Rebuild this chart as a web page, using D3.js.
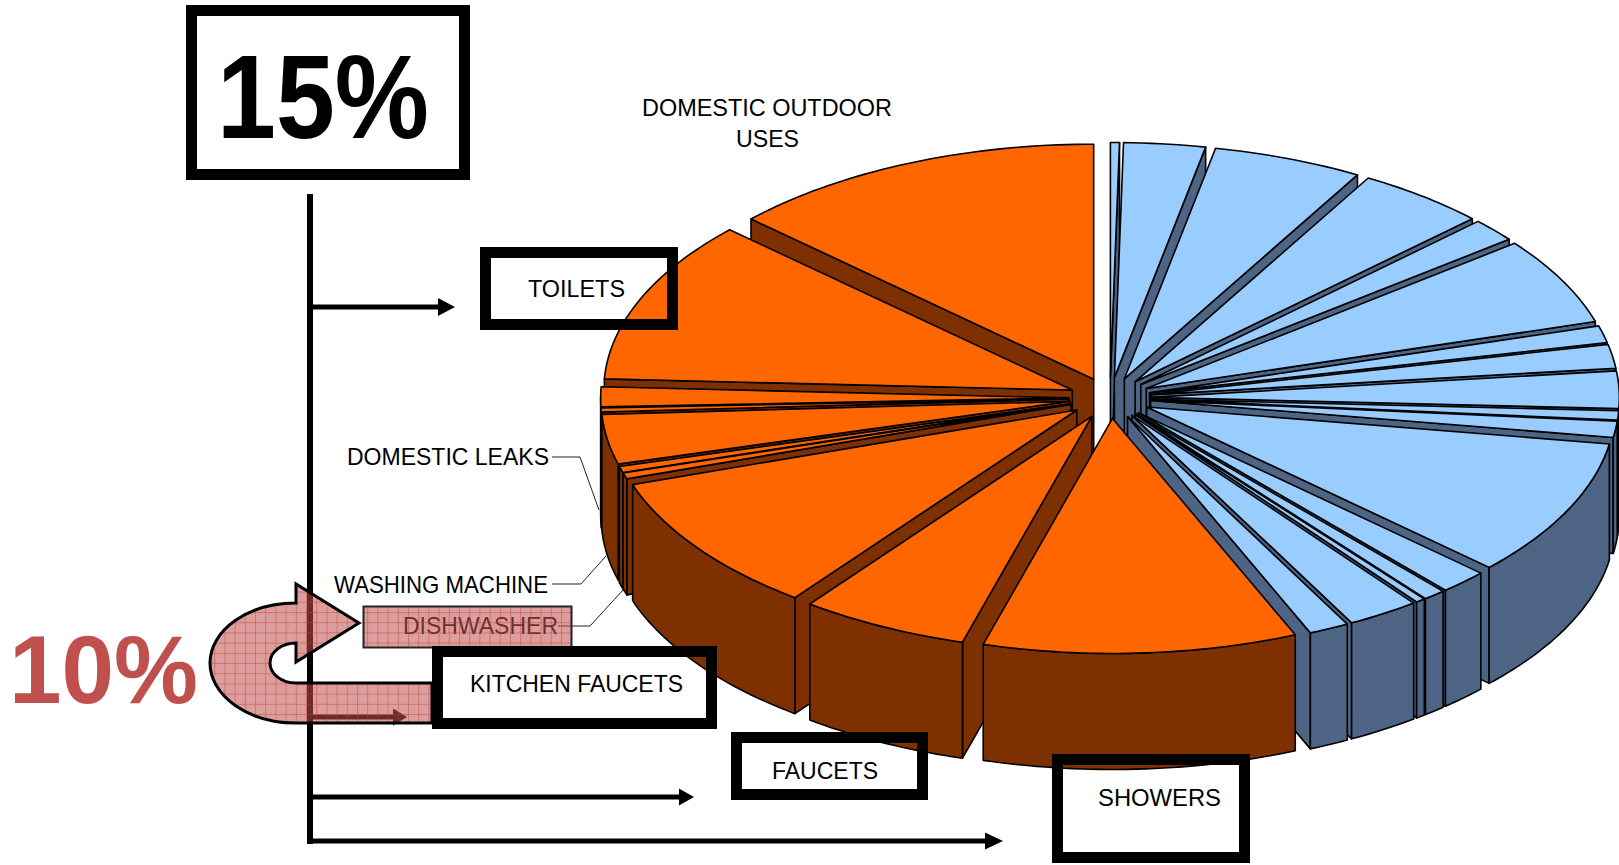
<!DOCTYPE html>
<html>
<head>
<meta charset="utf-8">
<script src="https://cdn.jsdelivr.net/npm/d3@7/dist/d3.min.js"></script>
<style>
html,body{margin:0;padding:0;background:#fff;overflow:hidden}
svg{display:block}
text{font-family:"Liberation Sans",Arial,sans-serif}
</style>
</head>
<body>
<svg id="chart" width="1619" height="865"></svg>
<script>
// ---------- data (share of the pie, %) ----------
const outdoorShares = [0.31,2.81,5.17,4.5,1.61,6.0,1.17,1.64,2.56,0.64,1.11,9.44,1.67,0.78,0.33,2.5,1.39];
const indoorShares  = [10.83,5.83,9.58,0.42,0.42,3.42,0.28,1.36,11.19,13.06];
const titleText = ["DOMESTIC OUTDOOR","USES"];
const boxLabels = ["TOILETS","KITCHEN FAUCETS","FAUCETS","SHOWERS"];
const leaderLabels = ["DOMESTIC LEAKS","WASHING MACHINE","DISHWASHER"];
const bigPercents = ["15%","10%"];

// ---------- layout ----------
const W = 1619, H = 865;
const cx = 1110, cy = 398, Rx = 468.5, Ry = 235, depth = 116, explode = 41 / 470;
const colors = {
  outdoor: {top:"#99CCFF", side:"#4D6484"},
  indoor:  {top:"#FF6600", side:"#7F3000"}
};
const sx = d3.scaleLinear().domain([-1,1]).range([cx-Rx, cx+Rx]);
const sy = d3.scaleLinear().domain([-1,1]).range([cy-Ry, cy+Ry]);

const svg = d3.select("#chart");
const defs = svg.append("defs");

// pink hatched fill: fine check plus a 10px grid, translucent
const fine = defs.append("pattern").attr("id","fine").attr("width",2).attr("height",2).attr("patternUnits","userSpaceOnUse");
fine.append("rect").attr("width",2).attr("height",2).attr("fill","rgba(192,80,77,.40)");
fine.append("rect").attr("width",1).attr("height",1).attr("fill","rgba(192,80,77,.52)");
fine.append("rect").attr("x",1).attr("y",1).attr("width",1).attr("height",1).attr("fill","rgba(192,80,77,.52)");
const hatch = defs.append("pattern").attr("id","hatch").attr("width",10.2).attr("height",10.2).attr("patternUnits","userSpaceOnUse");
hatch.append("rect").attr("width",10.2).attr("height",10.2).attr("fill","url(#fine)");
hatch.append("rect").attr("width",10.2).attr("height",1).attr("fill","rgba(190,60,60,.42)");
hatch.append("rect").attr("width",1).attr("height",10.2).attr("fill","rgba(190,60,60,.42)");

const line = d3.line();

function bigLabel(g, s, x, y, size, len, fill){
  g.append("text").attr("x",x).attr("y",y).attr("font-size",size).attr("font-weight","bold")
   .attr("fill",fill).attr("textLength",len).attr("lengthAdjust","spacingAndGlyphs").text(s);
}
function label(g, s, x, y, len, fill){
  g.append("text").attr("x",x).attr("y",y).attr("font-size",24).attr("fill",fill||"#000")
   .attr("textLength",len).attr("lengthAdjust","spacingAndGlyphs").text(s);
}
function arrow(g, x1, x2, y, w, hl, hh){
  g.append("rect").attr("x",x1).attr("y",y-w/2).attr("width",x2-hl-x1).attr("height",w).attr("fill","#000");
  g.append("path").attr("d",line([[x2-hl,y-hh/2],[x2,y],[x2-hl,y+hh/2]])+"Z").attr("fill","#000");
}

// ---------- layer 1: bracket, arrows, leaders, pink shapes ----------
const under = svg.append("g");
under.append("rect").attr("x",307).attr("y",194).attr("width",6).attr("height",650).attr("fill","#000");
arrow(under,310,455,307,5,17,18);
arrow(under,310,694,797,5,15,17);
arrow(under,310,1003,841,5,18,17);
arrow(under,310,407,717,5,14,17);

const leaders = [
  [[552,457],[580,457],[599,510]],
  [[552,584],[581,584],[606,556]],
  [[558,626],[590,626],[623,590]]
];
under.selectAll("path.leader").data(leaders).join("path").attr("class","leader")
  .attr("d",d=>line(d)).attr("fill","none").attr("stroke","#222").attr("stroke-width",1);

label(under,leaderLabels[2],403,634,155,"#000");

// U-turn arrow and dishwasher box
under.append("path")
  .attr("d","M432,723 L296,723 A86,60 0 0 1 296,603 L296,584 L359,623 L296,662 L296,643 A26,20 0 0 0 296,683 L432,683 Z")
  .attr("fill","url(#hatch)").attr("stroke","#000").attr("stroke-width",3).attr("stroke-linejoin","miter");
under.append("rect").attr("x",363.5).attr("y",606.5).attr("width",208).attr("height",41)
  .attr("fill","url(#hatch)").attr("stroke","#222").attr("stroke-width",2);

// ---------- layer 2: white interiors of the boxes (the pie lies over them) ----------
const boxes = [
  {x:480,y:247,w:198,h:83},   // toilets
  {x:432,y:646,w:285,h:83},   // kitchen faucets
  {x:731,y:732,w:197,h:68},   // faucets
  {x:1052,y:754,w:198,h:109}  // showers
];
svg.append("g").selectAll("rect").data(boxes).join("rect")
  .attr("x",d=>d.x).attr("y",d=>d.y).attr("width",d=>d.w).attr("height",d=>d.h).attr("fill","#fff");

// ---------- layer 3: the exploded 3D pie ----------
const shares = outdoorShares.map(v=>({v,group:"outdoor"})).concat(indoorShares.map(v=>({v,group:"indoor"})));
const pie = d3.pie().sort(null).value(d=>d.v).startAngle(0).endAngle(2*Math.PI);
const arcs = pie(shares).map(a=>{
  const mid = (a.startAngle+a.endAngle)/2;
  return {...a, mid, ax:explode*Math.sin(mid), ay:-explode*Math.cos(mid)};
});
// back to front
const ordered = arcs.slice().sort((p,q)=>Math.cos(q.mid)-Math.cos(p.mid));

const gPie = svg.append("g").attr("stroke","#000").attr("stroke-width",1.6).attr("stroke-linejoin","round");
ordered.forEach(a=>{
  const col = colors[a.data.group];
  const apex = [sx(a.ax), sy(a.ay)];
  const rimPts = (t0,t1)=>{
    const n = Math.max(2, Math.ceil((t1-t0)/0.02));
    return d3.range(n+1).map(i=>{
      const t = t0+(t1-t0)*i/n;
      return [sx(a.ax+Math.sin(t)), sy(a.ay-Math.cos(t))];
    });
  };
  const rim = rimPts(a.startAngle,a.endAngle);
  const down = p=>[p[0],p[1]+depth];
  const first = rim[0], last = rim[rim.length-1];
  // only the faces turned towards the viewer
  if (Math.sin(a.startAngle) < 0)
    gPie.append("path").attr("fill",col.side).attr("d",line([apex,first,down(first),down(apex)])+"Z");
  if (Math.sin(a.endAngle) > 0)
    gPie.append("path").attr("fill",col.side).attr("d",line([apex,last,down(last),down(apex)])+"Z");
  const f0 = Math.max(a.startAngle,Math.PI/2), f1 = Math.min(a.endAngle,3*Math.PI/2);
  if (f1 > f0) {
    const front = rimPts(f0,f1);
    gPie.append("path").attr("fill",col.side).attr("d",line(front.concat(front.slice().reverse().map(down)))+"Z");
  }
  gPie.append("path").attr("fill",col.top).attr("d",line([apex].concat(rim))+"Z");
});

// ---------- layer 4: box borders and text ----------
const bt = 11;
const gTop = svg.append("g");
const allBoxes = boxes.concat([{x:186,y:5,w:284,h:175}]);
gTop.selectAll("rect").data(allBoxes).join("rect")
  .attr("x",d=>d.x+bt/2).attr("y",d=>d.y+bt/2).attr("width",d=>d.w-bt).attr("height",d=>d.h-bt)
  .attr("fill","none").attr("stroke","#000").attr("stroke-width",bt);

bigLabel(gTop,bigPercents[0],217,138,119,212,"#000");
bigLabel(gTop,bigPercents[1],9,703,97,189,"#C0504D");

label(gTop,titleText[0],642,116,250);
label(gTop,titleText[1],736,147,63);
label(gTop,boxLabels[0],528,297,97);
label(gTop,boxLabels[1],470,692,213);
label(gTop,boxLabels[2],772,779,106);
label(gTop,boxLabels[3],1098,806,123);
label(gTop,leaderLabels[0],347,465,202);
label(gTop,leaderLabels[1],334,593,214);
</script>
</body>
</html>
